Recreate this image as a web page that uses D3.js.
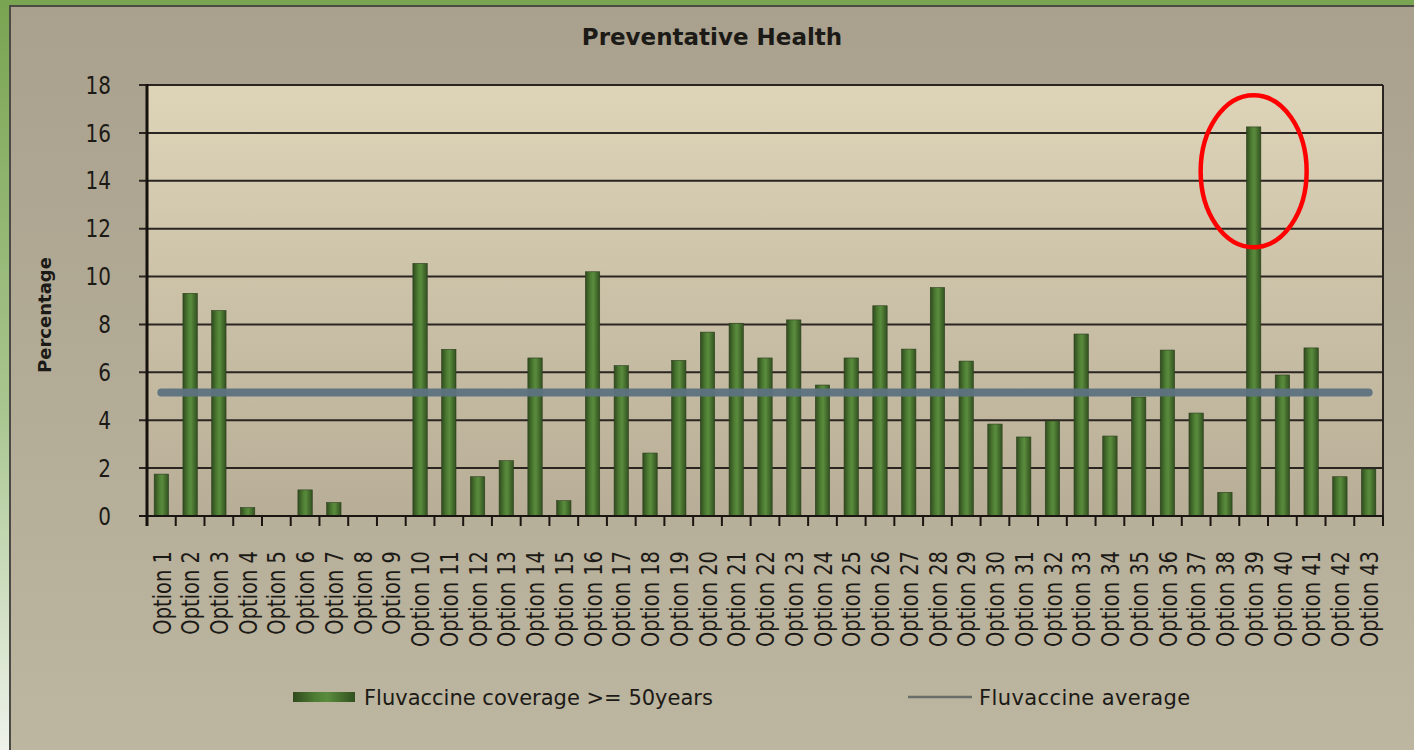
<!doctype html>
<html>
<head>
<meta charset="utf-8">
<title>Preventative Health</title>
<script src="https://d3js.org/d3.v7.min.js"></script>
<style>
  body { margin: 0; }
  text { font-family: "DejaVu Sans", sans-serif; fill: #1c1a16; }
</style>
</head>
<body>
<svg width="1414" height="750"></svg>
<script>

var categories = d3.range(1, 44).map(function(i) { return "Option " + i; });
var coverage = [1.75, 9.3, 8.58, 0.35, 0, 1.09, 0.56, 0, 0, 10.55,
                6.96, 1.64, 2.31, 6.6, 0.64, 10.2, 6.28, 2.63, 6.5, 7.68,
                8.05, 6.6, 8.19, 5.47, 6.6, 8.78, 6.97, 9.54, 6.47, 3.84,
                3.3, 3.97, 7.6, 3.34, 4.97, 6.93, 4.3, 0.99, 16.25, 5.89,
                7.02, 1.64, 1.96];
var average = 5.16;
var yTicks = [0, 2, 4, 6, 8, 10, 12, 14, 16, 18];
var seriesNames = ["Fluvaccine coverage >= 50years", "Fluvaccine average"];
var highlight = "Option 39";

var svg = d3.select("svg");
var defs = svg.append("defs");

function gradient(id, x2, y2, stops) {
    var g = defs.append("linearGradient").attr("id", id)
        .attr("x1", 0).attr("y1", 0).attr("x2", x2).attr("y2", y2);
    stops.forEach(function(s) {
        g.append("stop").attr("offset", s[0]).attr("stop-color", s[1]);
    });
}
gradient("outer", 0, 1, [["0%", "#79a451"], ["55%", "#a9c690"], ["100%", "#eef2ea"]]);
gradient("chartbg", 0, 1, [["0%", "#a9a18d"], ["100%", "#bdb6a0"]]);
gradient("plotbg", 0, 1, [["0%", "#ded4b8"], ["100%", "#b8ae97"]]);
gradient("bar", 1, 0, [["0%", "#2f4a1d"], ["35%", "#4d7c33"], ["55%", "#5a8c3d"], ["100%", "#31501f"]]);

var plotLeft = 147, plotRight = 1383, plotTop = 85, plotBottom = 516;

var x = d3.scaleBand().domain(categories).range([plotLeft, plotRight])
    .paddingInner(0.5).paddingOuter(0.25);
var y = d3.scaleLinear().domain([0, 18]).range([plotBottom, plotTop]);

// background and frame
svg.append("rect").attr("width", 1414).attr("height", 750).attr("fill", "url(#outer)");
svg.append("rect").attr("x", 10).attr("y", 6).attr("width", 1420).attr("height", 760)
   .attr("fill", "url(#chartbg)").attr("stroke", "#4b4a44").attr("stroke-width", 2);

// plot area
svg.append("rect").attr("x", plotLeft).attr("y", plotTop)
   .attr("width", plotRight - plotLeft).attr("height", plotBottom - plotTop)
   .attr("fill", "url(#plotbg)");

svg.append("text")
   .attr("x", 712).attr("y", 45)
   .attr("text-anchor", "middle")
   .attr("font-size", "23px").attr("font-weight", "bold")
   .text("Preventative Health");

// y grid + axis
var g = svg.append("g");
g.selectAll(".grid")
 .data(yTicks)
 .enter().append("line")
 .attr("x1", plotLeft - 8).attr("x2", plotRight)
 .attr("y1", function(d) { return y(d); })
 .attr("y2", function(d) { return y(d); })
 .attr("stroke", "#2a2520").attr("stroke-width", 2);

g.selectAll(".ylab")
 .data(yTicks)
 .enter().append("text")
 .attr("transform", function(d) { return "translate(111," + y(d) + ") scale(1,1.2)"; })
 .attr("dy", "0.36em")
 .attr("text-anchor", "end")
 .attr("font-size", "20px")
 .text(function(d) { return d; });

svg.append("line").attr("x1", plotRight).attr("x2", plotRight).attr("y1", plotTop).attr("y2", plotBottom)
   .attr("stroke", "#2a2520").attr("stroke-width", 2);

svg.append("text")
   .attr("transform", "translate(51,315) rotate(-90)")
   .attr("text-anchor", "middle")
   .attr("font-size", "18px").attr("font-weight", "bold")
   .text("Percentage");

// bars
svg.selectAll(".bar")
   .data(coverage)
   .enter().append("rect")
   .attr("class", "bar")
   .attr("x", function(d, i) { return x(categories[i]); })
   .attr("y", function(d) { return y(d); })
   .attr("width", x.bandwidth())
   .attr("height", function(d) { return plotBottom - y(d); })
   .attr("fill", "url(#bar)")
   .attr("stroke", "#2c3f1f").attr("stroke-width", 0.6);

// category ticks between bars
var bounds = categories.map(function(c) { return x(c) - x.step() * 0.25; }).concat([plotRight]);
svg.selectAll(".xtick")
   .data(bounds)
   .enter().append("line")
   .attr("x1", function(d) { return d; }).attr("x2", function(d) { return d; })
   .attr("y1", plotBottom).attr("y2", plotBottom + 10)
   .attr("stroke", "#1a1510").attr("stroke-width", 2);

svg.append("line").attr("x1", plotLeft - 8).attr("x2", plotRight).attr("y1", plotBottom).attr("y2", plotBottom)
   .attr("stroke", "#1a1510").attr("stroke-width", 2);
svg.append("line").attr("x1", plotLeft).attr("x2", plotLeft).attr("y1", plotTop - 1).attr("y2", plotBottom + 10)
   .attr("stroke", "#15110d").attr("stroke-width", 3);

svg.selectAll(".xlab")
   .data(categories)
   .enter().append("text")
   .attr("transform", function(c) {
       return "translate(" + (x(c) + x.bandwidth() / 2) + ",551) rotate(-90) scale(1,1.3)";
   })
   .attr("dy", "0.36em")
   .attr("text-anchor", "end")
   .attr("font-size", "19.5px")
   .text(function(c) { return c; });

// average line
var line = d3.line()
    .x(function(c) { return x(c) + x.bandwidth() / 2; })
    .y(function() { return y(average); });
svg.append("path")
   .attr("d", line(categories))
   .attr("fill", "none")
   .attr("stroke", "#5d7281").attr("stroke-width", 8)
   .attr("stroke-linecap", "round")
   .attr("opacity", 0.95);

// highlight ellipse
svg.append("ellipse")
   .attr("cx", x(highlight) + x.bandwidth() / 2)
   .attr("cy", y(14.4))
   .attr("rx", 53).attr("ry", 76)
   .attr("fill", "none")
   .attr("stroke", "#ff0000").attr("stroke-width", 4.5);

// legend
var legend = svg.append("g");
legend.append("rect").attr("x", 293).attr("y", 692).attr("width", 62).attr("height", 10)
      .attr("fill", "url(#bar)");
legend.append("text").attr("x", 364).attr("y", 697).attr("dy", "0.36em")
      .attr("font-size", "21px").text(seriesNames[0]);
legend.append("line").attr("x1", 908).attr("x2", 972).attr("y1", 697).attr("y2", 697)
      .attr("stroke", "#6a6e68").attr("stroke-width", 2.5);
legend.append("text").attr("x", 979).attr("y", 697).attr("dy", "0.36em")
      .attr("font-size", "21px").attr("letter-spacing", "0.4px").text(seriesNames[1]);
</script>
</body>
</html>
